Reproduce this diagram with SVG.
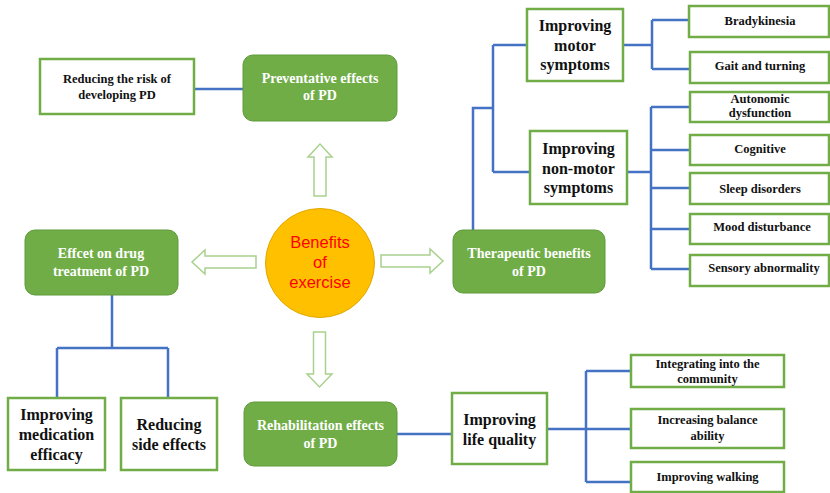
<svg xmlns="http://www.w3.org/2000/svg" width="830" height="493" viewBox="0 0 830 493">
<style>
.g{fill:#70AD47;stroke:#5E9A3A;stroke-width:1}
.b{fill:#FFFFFF;stroke:#70AD47;stroke-width:2.5}
.gt{font-family:"Liberation Serif","Times New Roman",serif;font-weight:bold;font-size:14px;fill:#FFFFFF;text-anchor:middle}
.bt{font-family:"Liberation Serif","Times New Roman",serif;font-weight:bold;font-size:12.5px;fill:#111111;text-anchor:middle}
.lt{font-family:"Liberation Serif","Times New Roman",serif;font-weight:bold;font-size:16px;fill:#111111;text-anchor:middle}
.c{fill:none;stroke:#4472C4;stroke-width:2.5}
.a{fill:#FFFFFF;stroke:#A9D18E;stroke-width:1.5;stroke-linejoin:miter}
.ct{font-family:"Liberation Sans",Arial,sans-serif;font-size:16.5px;fill:#FF0000;text-anchor:middle}
</style>
<rect width="830" height="493" fill="#FFFFFF"/>
<g id="connectors">
<path class="c" d="M194,89 H243"/>
<path class="c" d="M473,230 V108 H493 M493,45 V172 M493,45 H527 M493,172 H530"/>
<path class="c" d="M623,45 H652 M652,20 V69 M652,20 H689 M652,69 H690"/>
<path class="c" d="M627,172 H651 M651,107 V269 M651,107 H690 M651,150 H690 M651,188 H690 M651,229 H690 M651,269 H690"/>
<path class="c" d="M112,295 V348 M57,348 H168 M57,348 V398 M168,348 V398"/>
<path class="c" d="M397,434 H452"/>
<path class="c" d="M547,429 H586 M586,371 V482 M586,371 H631 M586,429 H631 M586,482 H631"/>
</g>
<g id="arrows">
<polygon class="a" points="314,196 314,157 308,157 320,144 332,157 326,157 326,196"/>
<polygon class="a" points="313.5,332 325.5,332 325.5,374 332,374 319.5,387 307,374 313.5,374"/>
<polygon class="a" points="256,256 205,256 205,250 192,262 205,274 205,268 256,268"/>
<polygon class="a" points="381,255 430,255 430,249 443,261 430,273 430,267 381,267"/>
</g>
<g id="center">
<circle cx="320" cy="263" r="54.5" fill="#FFC000" stroke="#E0A800" stroke-width="1"/>
<text class="ct" x="320" y="248">Benefits</text>
<text class="ct" x="320" y="268">of</text>
<text class="ct" x="320" y="288">exercise</text>
</g>
<g id="preventative">
<rect class="g" x="243" y="55" width="154" height="66" rx="10"/>
<text class="gt" x="320" y="83">Preventative effects</text>
<text class="gt" x="320" y="100">of PD</text>
</g>
<g id="reducing-risk">
<rect class="b" x="40" y="59" width="154" height="55"/>
<text class="bt" x="117" y="83">Reducing the risk of</text>
<text class="bt" x="117" y="99">developing PD</text>
</g>
<g id="therapeutic">
<rect class="g" x="453" y="230" width="152" height="63" rx="10"/>
<text class="gt" x="529" y="258">Therapeutic benefits</text>
<text class="gt" x="529" y="276">of PD</text>
</g>
<g id="motor">
<rect class="b" x="527" y="9" width="96" height="72"/>
<text class="lt" x="575" y="31">Improving</text>
<text class="lt" x="575" y="51">motor</text>
<text class="lt" x="575" y="70">symptoms</text>
</g>
<g id="nonmotor">
<rect class="b" x="530" y="131" width="97" height="73"/>
<text class="lt" x="578.5" y="154">Improving</text>
<text class="lt" x="578.5" y="174">non-motor</text>
<text class="lt" x="578.5" y="193">symptoms</text>
</g>
<g id="bradykinesia">
<rect class="b" x="689" y="6" width="140" height="31"/>
<text class="bt" x="760" y="25">Bradykinesia</text>
</g>
<g id="gait">
<rect class="b" x="690" y="52" width="139" height="31"/>
<text class="bt" x="760" y="70">Gait and turning</text>
</g>
<g id="autonomic">
<rect class="b" x="690" y="92" width="139" height="30"/>
<text class="bt" x="760" y="103">Autonomic</text>
<text class="bt" x="760" y="117">dysfunction</text>
</g>
<g id="cognitive">
<rect class="b" x="690" y="135" width="139" height="30"/>
<text class="bt" x="760" y="153">Cognitive</text>
</g>
<g id="sleep">
<rect class="b" x="690" y="173" width="139" height="31"/>
<text class="bt" x="760" y="193">Sleep disorders</text>
</g>
<g id="mood">
<rect class="b" x="690" y="214" width="139" height="30"/>
<text class="bt" x="762" y="231">Mood disturbance</text>
</g>
<g id="sensory">
<rect class="b" x="690" y="255" width="139" height="31"/>
<text class="bt" x="764" y="272">Sensory abnormality</text>
</g>
<g id="drug">
<rect class="g" x="25" y="230" width="153" height="65" rx="10"/>
<text class="gt" x="101" y="258">Effcet on drug</text>
<text class="gt" x="101" y="276">treatment of PD</text>
</g>
<g id="medication">
<rect class="b" x="8" y="398" width="97" height="72"/>
<text class="lt" x="56.5" y="420">Improving</text>
<text class="lt" x="56.5" y="440">medication</text>
<text class="lt" x="56.5" y="460">efficacy</text>
</g>
<g id="side-effects">
<rect class="b" x="121" y="398" width="96" height="72"/>
<text class="lt" x="169" y="430">Reducing</text>
<text class="lt" x="169" y="450">side effects</text>
</g>
<g id="rehabilitation">
<rect class="g" x="244" y="402" width="153" height="64" rx="10"/>
<text class="gt" x="320.5" y="430">Rehabilitation effects</text>
<text class="gt" x="320.5" y="448">of PD</text>
</g>
<g id="life-quality">
<rect class="b" x="452" y="393" width="95" height="71"/>
<text class="lt" x="499.5" y="425">Improving</text>
<text class="lt" x="499.5" y="445">life quality</text>
</g>
<g id="community">
<rect class="b" x="631" y="355" width="153" height="32"/>
<text class="bt" x="707.5" y="368">Integrating into the</text>
<text class="bt" x="707.5" y="383">community</text>
</g>
<g id="balance">
<rect class="b" x="631" y="409" width="153" height="39"/>
<text class="bt" x="707.5" y="424">Increasing balance</text>
<text class="bt" x="707.5" y="440">ability</text>
</g>
<g id="walking">
<rect class="b" x="631" y="462" width="153" height="30"/>
<text class="bt" x="707.5" y="481">Improving walking</text>
</g>
</svg>
